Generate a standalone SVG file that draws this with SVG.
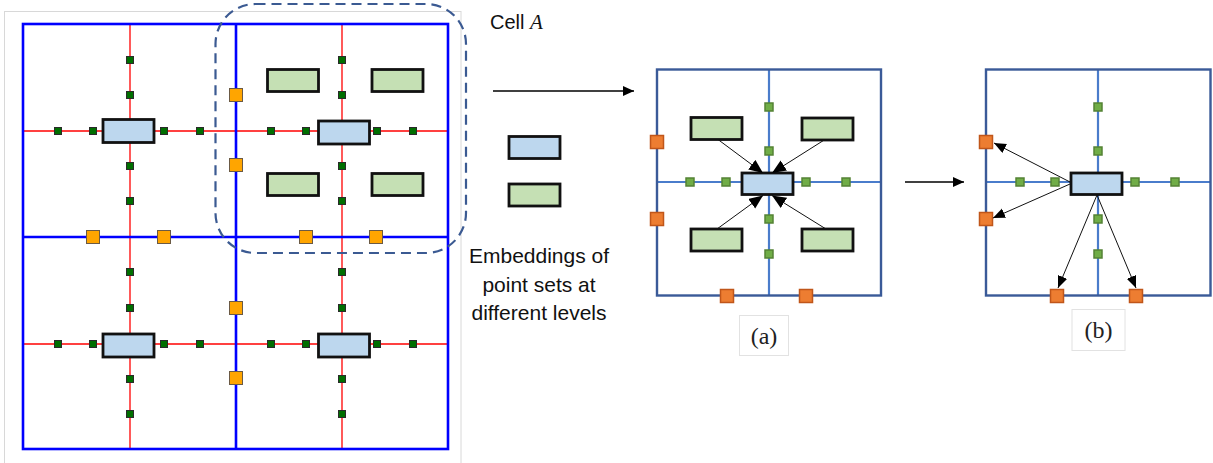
<svg xmlns="http://www.w3.org/2000/svg" width="1213" height="463" viewBox="0 0 1213 463">
<style>
.grid{fill:none;stroke:#0000FF;stroke-width:2.6}
.red{stroke:#FF0000;stroke-width:1.3}
.dg{fill:#006E00;stroke:#2a2a2a;stroke-width:1}
.og{fill:#FFA500;stroke:#6b5a45;stroke-width:1}
.bb{fill:#BDD7EE;stroke:#111;stroke-width:2.8}
.gb{fill:#C5E0B4;stroke:#111;stroke-width:2.8}
.outer{fill:none;stroke:#3A5A98;stroke-width:2.4}
.inner{stroke:#4A7CCB;stroke-width:2.2}
.lg{fill:#70AD47;stroke:#548235;stroke-width:1.5}
.or{fill:#ED7D31;stroke:#C0561A;stroke-width:1.5}
.arr{stroke:#111;stroke-width:1;fill:none}
.harr{stroke:#000;stroke-width:1.7;fill:none}
.txt{font-family:"Liberation Sans",Arial,sans-serif;fill:#111}
.cap{font-family:"Liberation Serif","DejaVu Serif",serif;font-size:24px;fill:#222}
.capbox{fill:#fff;stroke:#e2e2e2;stroke-width:1}
</style>
<defs>
<marker id="ah" markerUnits="userSpaceOnUse" markerWidth="13" markerHeight="11" refX="12" refY="5" orient="auto">
<path d="M0,0 L12,5 L0,10 z" fill="#000"/>
</marker>
<marker id="ahbig" markerUnits="userSpaceOnUse" markerWidth="15" markerHeight="13" refX="14" refY="6" orient="auto">
<path d="M0,0 L14,6 L0,12 z" fill="#000"/>
</marker>
<marker id="ah2" markerUnits="userSpaceOnUse" markerWidth="12" markerHeight="11" refX="11" refY="5" orient="auto">
<path d="M0,0 L11,5 L0,10 z" fill="#000"/>
</marker>
</defs>
<rect width="1213" height="463" fill="#fff"/>

<!-- Left panel -->
<g id="left-panel">
<rect x="4.5" y="11.5" width="456.5" height="470" fill="none" stroke="#d8d8d8" stroke-width="1"/>
<g id="red-lines">
<line class="red" x1="130" y1="24" x2="130" y2="449"/>
<line class="red" x1="342" y1="24" x2="342" y2="449"/>
<line class="red" x1="23" y1="131" x2="448" y2="131"/>
<line class="red" x1="23" y1="344" x2="448" y2="344"/>
</g>
<g id="grid">
<rect class="grid" x="23" y="24" width="425" height="425"/>
<line class="grid" x1="236" y1="24" x2="236" y2="449"/>
<line class="grid" x1="23" y1="237" x2="448" y2="237"/>
</g>
<g id="left-points">
<rect class="dg" x="126.5" y="56.5" width="7" height="7"/>
<rect class="dg" x="126.5" y="91.5" width="7" height="7"/>
<rect class="dg" x="126.5" y="162.5" width="7" height="7"/>
<rect class="dg" x="126.5" y="197.5" width="7" height="7"/>
<rect class="dg" x="54.5" y="127.5" width="7" height="7"/>
<rect class="dg" x="89.5" y="127.5" width="7" height="7"/>
<rect class="dg" x="160.5" y="127.5" width="7" height="7"/>
<rect class="dg" x="196.5" y="127.5" width="7" height="7"/>
<rect class="dg" x="338.5" y="56.5" width="7" height="7"/>
<rect class="dg" x="338.5" y="91.5" width="7" height="7"/>
<rect class="dg" x="338.5" y="162.5" width="7" height="7"/>
<rect class="dg" x="338.5" y="197.5" width="7" height="7"/>
<rect class="dg" x="267.5" y="127.5" width="7" height="7"/>
<rect class="dg" x="302.5" y="127.5" width="7" height="7"/>
<rect class="dg" x="373.5" y="127.5" width="7" height="7"/>
<rect class="dg" x="409.5" y="127.5" width="7" height="7"/>
<rect class="dg" x="126.5" y="268.5" width="7" height="7"/>
<rect class="dg" x="126.5" y="304.5" width="7" height="7"/>
<rect class="dg" x="126.5" y="375.5" width="7" height="7"/>
<rect class="dg" x="126.5" y="410.5" width="7" height="7"/>
<rect class="dg" x="54.5" y="340.5" width="7" height="7"/>
<rect class="dg" x="89.5" y="340.5" width="7" height="7"/>
<rect class="dg" x="160.5" y="340.5" width="7" height="7"/>
<rect class="dg" x="196.5" y="340.5" width="7" height="7"/>
<rect class="dg" x="338.5" y="268.5" width="7" height="7"/>
<rect class="dg" x="338.5" y="304.5" width="7" height="7"/>
<rect class="dg" x="338.5" y="375.5" width="7" height="7"/>
<rect class="dg" x="338.5" y="410.5" width="7" height="7"/>
<rect class="dg" x="267.5" y="340.5" width="7" height="7"/>
<rect class="dg" x="302.5" y="340.5" width="7" height="7"/>
<rect class="dg" x="373.5" y="340.5" width="7" height="7"/>
<rect class="dg" x="409.5" y="340.5" width="7" height="7"/>
</g>
<g id="left-boundary-points">
<rect class="og" x="229.5" y="88.5" width="13" height="13"/>
<rect class="og" x="229.5" y="158.5" width="13" height="13"/>
<rect class="og" x="229.5" y="301.5" width="13" height="13"/>
<rect class="og" x="229.5" y="371.5" width="13" height="13"/>
<rect class="og" x="86.5" y="230.5" width="13" height="13"/>
<rect class="og" x="157.5" y="230.5" width="13" height="13"/>
<rect class="og" x="299.5" y="230.5" width="13" height="13"/>
<rect class="og" x="369.5" y="230.5" width="13" height="13"/>
</g>
<g id="left-cells">
<rect class="bb" x="103" y="119.5" width="51" height="23"/>
<rect class="bb" x="318.5" y="121" width="51" height="23"/>
<rect class="bb" x="103" y="334" width="51" height="23"/>
<rect class="bb" x="318.5" y="334" width="51" height="23"/>
<rect class="gb" x="267.5" y="69.5" width="51" height="22"/>
<rect class="gb" x="372" y="69.5" width="51" height="22"/>
<rect class="gb" x="267.5" y="173.5" width="51" height="22"/>
<rect class="gb" x="372" y="173.5" width="51" height="22"/>
</g>
<rect id="cell-A-outline" x="215.5" y="4" width="250.5" height="249" rx="40" fill="none" stroke="#3B5A92" stroke-width="2.2" stroke-dasharray="10 6"/>
</g>

<g id="labels">
<text class="txt" x="490" y="28.5" font-size="20">Cell <tspan font-family="Liberation Serif,serif" font-style="italic" font-size="21">A</tspan></text>
<text class="txt" x="539" y="263" font-size="21" text-anchor="middle">Embeddings of</text>
<text class="txt" x="539" y="291.5" font-size="21" text-anchor="middle">point sets at</text>
<text class="txt" x="539" y="320" font-size="21" text-anchor="middle">different levels</text>
</g>

<g id="legend">
<rect class="bb" x="509" y="136.5" width="51" height="22"/>
<rect class="gb" x="509" y="184" width="51" height="22"/>
</g>

<!-- Panel (a) -->
<g id="panel-a">
<line class="inner" x1="769" y1="69" x2="769" y2="296"/>
<line class="inner" x1="657" y1="182" x2="881" y2="182"/>
<rect class="outer" x="657" y="69.5" width="224" height="226"/>
<rect class="lg" x="765" y="103" width="8" height="8"/>
<rect class="lg" x="765" y="147" width="8" height="8"/>
<rect class="lg" x="765" y="215" width="8" height="8"/>
<rect class="lg" x="765" y="250" width="8" height="8"/>
<rect class="lg" x="686" y="178" width="8" height="8"/>
<rect class="lg" x="722" y="178" width="8" height="8"/>
<rect class="lg" x="802" y="178" width="8" height="8"/>
<rect class="lg" x="842" y="178" width="8" height="8"/>
<rect class="or" x="650.5" y="135.5" width="13" height="13"/>
<rect class="or" x="650.5" y="212.5" width="13" height="13"/>
<rect class="or" x="720.5" y="289.5" width="13" height="13"/>
<rect class="or" x="799.5" y="289.5" width="13" height="13"/>
<rect class="gb" x="691" y="117.5" width="51" height="22"/>
<rect class="gb" x="802" y="118" width="51" height="22"/>
<rect class="gb" x="691" y="229" width="51" height="22"/>
<rect class="gb" x="802" y="229" width="51" height="22"/>
<rect class="bb" x="742" y="173" width="51" height="21.5"/>
</g>

<!-- Panel (b) -->
<g id="panel-b">
<line class="inner" x1="1098" y1="69" x2="1098" y2="296"/>
<line class="inner" x1="986" y1="182" x2="1211" y2="182"/>
<rect class="outer" x="986" y="69.5" width="224.5" height="226"/>
<rect class="lg" x="1094" y="103" width="8" height="8"/>
<rect class="lg" x="1094" y="147" width="8" height="8"/>
<rect class="lg" x="1094" y="215" width="8" height="8"/>
<rect class="lg" x="1094" y="250" width="8" height="8"/>
<rect class="lg" x="1016" y="178" width="8" height="8"/>
<rect class="lg" x="1051" y="178" width="8" height="8"/>
<rect class="lg" x="1131" y="178" width="8" height="8"/>
<rect class="lg" x="1171" y="178" width="8" height="8"/>
<rect class="or" x="979.5" y="135.5" width="13" height="13"/>
<rect class="or" x="979.5" y="212.5" width="13" height="13"/>
<rect class="or" x="1050.5" y="289.5" width="13" height="13"/>
<rect class="or" x="1129.5" y="289.5" width="13" height="13"/>
<rect class="bb" x="1071" y="173" width="51" height="21.5"/>
</g>

<g id="captions">
<rect class="capbox" x="739.5" y="315.5" width="49" height="40"/>
<text class="cap" x="764" y="343.5" text-anchor="middle">(a)</text>
<rect class="capbox" x="1072" y="309.5" width="53" height="41"/>
<text class="cap" x="1098.5" y="337.5" text-anchor="middle">(b)</text>
</g>

<g id="connectors">
<line class="harr" x1="493" y1="91" x2="634" y2="91" marker-end="url(#ah2)"/>
<line class="harr" x1="905" y1="182" x2="964" y2="182" marker-end="url(#ah2)"/>
<line class="arr" x1="718" y1="139.5" x2="763" y2="173" marker-end="url(#ahbig)"/>
<line class="arr" x1="825" y1="139.5" x2="772" y2="173" marker-end="url(#ahbig)"/>
<line class="arr" x1="717" y1="229" x2="763" y2="195.5" marker-end="url(#ahbig)"/>
<line class="arr" x1="826" y1="229" x2="772" y2="195.5" marker-end="url(#ahbig)"/>
<line class="arr" x1="1070" y1="182" x2="994" y2="143" marker-end="url(#ah)"/>
<line class="arr" x1="1070" y1="184" x2="993" y2="218" marker-end="url(#ah)"/>
<line class="arr" x1="1097" y1="195" x2="1058" y2="288" marker-end="url(#ah)"/>
<line class="arr" x1="1097" y1="195" x2="1136" y2="288" marker-end="url(#ah)"/>
</g>
</svg>
